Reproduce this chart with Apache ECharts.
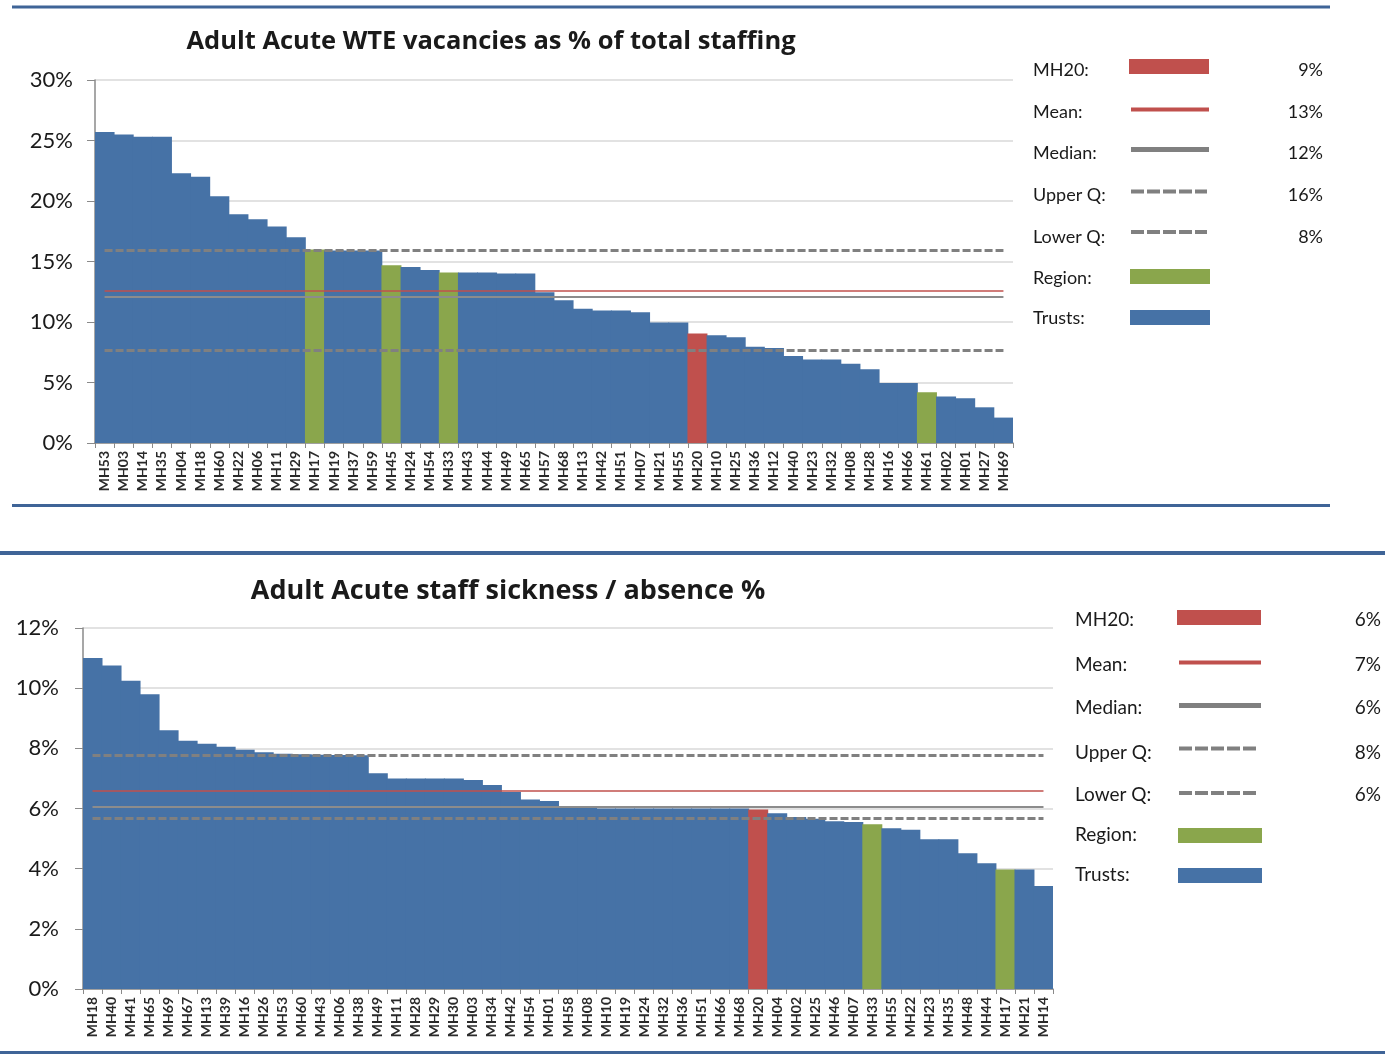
<!DOCTYPE html>
<html>
<head>
<meta charset="utf-8">
<script src="https://cdn.jsdelivr.net/npm/echarts@6/dist/echarts.min.js"></script>
<style>
  html, body { margin: 0; padding: 0; background: #ffffff; }
  #chart { width: 1385px; height: 1055px; }
</style>
</head>
<body>
<div id="chart"></div>
<script>
// ---- Adult Acute WTE vacancies (% of total staffing) ----
const vacancyTrusts = ['MH53','MH03','MH14','MH35','MH04','MH18','MH60','MH22','MH06','MH11','MH29','MH17',
  'MH19','MH37','MH59','MH45','MH24','MH54','MH33','MH43','MH44','MH49','MH65','MH57','MH68','MH13','MH42',
  'MH51','MH07','MH21','MH55','MH20','MH10','MH25','MH36','MH12','MH40','MH23','MH32','MH08','MH28','MH16',
  'MH66','MH61','MH02','MH01','MH27','MH69'];
const vacancyValues = [25.7, 25.5, 25.3, 25.3, 22.3, 22.0, 20.4, 18.9, 18.5, 17.9, 17.0, 16.0,
  15.9, 15.9, 15.9, 14.7, 14.55, 14.3, 14.1, 14.1, 14.1, 14.0, 14.0, 12.45, 11.8, 11.1, 10.95,
  10.95, 10.8, 9.95, 9.95, 9.05, 8.9, 8.75, 7.95, 7.85, 7.2, 6.9, 6.9, 6.55, 6.1, 4.95,
  4.95, 4.2, 3.85, 3.7, 2.95, 2.1];
const vacancyRegion = ['MH17', 'MH45', 'MH33', 'MH61'];
const vacancyMean = 12.6;
const vacancyMedian = 12.07;
const vacancyUpperQ = 15.95;
const vacancyLowerQ = 7.66;
const vacancyTicks = [0, 5, 10, 15, 20, 25, 30];

// ---- Adult Acute staff sickness / absence % ----
const sicknessTrusts = ['MH18','MH40','MH41','MH65','MH69','MH67','MH13','MH39','MH16','MH26','MH53','MH60',
  'MH43','MH06','MH38','MH49','MH11','MH28','MH29','MH30','MH03','MH34','MH42','MH54','MH01','MH58','MH08',
  'MH10','MH19','MH24','MH32','MH36','MH51','MH66','MH68','MH20','MH04','MH02','MH25','MH46','MH07','MH33',
  'MH55','MH22','MH23','MH35','MH48','MH44','MH17','MH21','MH14'];
const sicknessValues = [11.0, 10.75, 10.25, 9.8, 8.6, 8.25, 8.15, 8.05, 7.95, 7.87, 7.82, 7.8,
  7.79, 7.78, 7.77, 7.17, 7.0, 7.0, 7.0, 7.0, 6.95, 6.78, 6.55, 6.3, 6.25, 6.06, 6.06,
  6.0, 6.0, 6.0, 6.0, 6.0, 6.0, 6.0, 6.0, 5.97, 5.84, 5.72, 5.66, 5.58, 5.55, 5.48,
  5.34, 5.29, 4.98, 4.98, 4.51, 4.18, 3.97, 3.97, 3.42];
const sicknessRegion = ['MH33', 'MH17'];
const sicknessMean = 6.6;
const sicknessMedian = 6.06;
const sicknessUpperQ = 7.77;
const sicknessLowerQ = 5.66;
const sicknessTicks = [0, 2, 4, 6, 8, 10, 12];

const focusTrust = 'MH20';
const legendLabels = ['MH20:', 'Mean:', 'Median:', 'Upper Q:', 'Lower Q:', 'Region:', 'Trusts:'];

// ---- palette ----
const BLUE = '#4672A6';
const GREEN = '#8AA64C';
const RED = '#C0504D';
const GREY = '#808080';
const RULE = '#3F6497';
const FONT = 'Lato, "Open Sans", sans-serif';
const TITLE_FONT = '"Open Sans", Lato, sans-serif';
const INK = '#1a1a1a';

const meanStyle = { color: RED, width: 1.5, type: 'solid' };
const medianStyle = { color: '#8C8C8C', width: 2, type: 'solid' };
const quartileStyle = { color: GREY, width: 3, type: [8, 3] };

function barData(trusts, values, region) {
  return values.map((v, i) => {
    const t = trusts[i];
    let c = BLUE;
    if (t === focusTrust) c = RED;
    else if (region.indexOf(t) >= 0) c = GREEN;
    return { value: v, itemStyle: { color: c } };
  });
}

function refLine(trusts, v, style) {
  return [
    { coord: [trusts[0], v], lineStyle: style },
    { coord: [trusts[trusts.length - 1], v] }
  ];
}

function xAxisFor(gridIndex, trusts) {
  return {
    type: 'category', gridIndex: gridIndex, data: trusts,
    boundaryGap: true,
    axisLine: { show: true, lineStyle: { color: '#8A8A8A', width: 1.5 } },
    axisTick: { show: true, alignWithLabel: false, length: 5, lineStyle: { color: '#8A8A8A' } },
    axisLabel: { interval: 0, rotate: 90, margin: 8, fontFamily: FONT, fontSize: 14, fontWeight: 'bold', color: '#2a2a2a' },
    splitLine: { show: false }
  };
}

function yAxisFor(gridIndex, ticks, margin) {
  return {
    type: 'value', gridIndex: gridIndex,
    min: ticks[0], max: ticks[ticks.length - 1], interval: ticks[1] - ticks[0],
    axisLine: { show: true, lineStyle: { color: '#8A8A8A', width: 1.5 } },
    axisTick: { show: true, length: 8, lineStyle: { color: '#8A8A8A' } },
    axisLabel: { margin: margin, fontFamily: FONT, fontSize: 22, color: INK, formatter: '{value}%' },
    splitLine: { show: true, lineStyle: { color: '#D9D9D9', width: 1.5 } }
  };
}

// Bars are drawn a touch wider than their band so neighbours butt together seamlessly
function barSeries(idx, trusts, values, region, mean, median, upper, lower) {
  return {
    type: 'bar', xAxisIndex: idx, yAxisIndex: idx,
    data: barData(trusts, values, region),
    barWidth: 20,
    animation: false,
    markLine: {
      silent: true, symbol: ['none', 'none'], label: { show: false }, animation: false,
      data: [
        refLine(trusts, upper, quartileStyle),
        refLine(trusts, lower, quartileStyle),
        refLine(trusts, median, medianStyle),
        refLine(trusts, mean, meanStyle)
      ]
    }
  };
}

function pct(v) { return Math.round(v) + '%'; }

// Key block beside each chart: label, swatch and rounded value
function legendBlock(textX, swX1, swX2, valueX, textYs, swYs, values, fontSize) {
  const els = [];
  const font = fontSize + 'px ' + FONT;
  legendLabels.forEach((lab, i) => {
    els.push({ type: 'text', silent: true,
      style: { x: textX, y: textYs[i], text: lab, font: font, fill: INK, align: 'left', verticalAlign: 'middle' } });
  });
  const w = swX2 - swX1;
  els.push({ type: 'rect', silent: true, shape: { x: swX1, y: swYs[0] - 7.5, width: w, height: 15 }, style: { fill: RED } });
  els.push({ type: 'line', silent: true, shape: { x1: swX1 + 2, y1: swYs[1], x2: swX2, y2: swYs[1] }, style: { stroke: RED, lineWidth: 4 } });
  els.push({ type: 'line', silent: true, shape: { x1: swX1 + 2, y1: swYs[2], x2: swX2, y2: swYs[2] }, style: { stroke: '#808080', lineWidth: 5 } });
  els.push({ type: 'line', silent: true, shape: { x1: swX1 + 2, y1: swYs[3], x2: swX2 - 2, y2: swYs[3] }, style: { stroke: '#808080', lineWidth: 4, lineDash: [13, 3] } });
  els.push({ type: 'line', silent: true, shape: { x1: swX1 + 2, y1: swYs[4], x2: swX2 - 2, y2: swYs[4] }, style: { stroke: '#808080', lineWidth: 4, lineDash: [13, 3] } });
  els.push({ type: 'rect', silent: true, shape: { x: swX1 + 1, y: swYs[5] - 7.5, width: w, height: 15 }, style: { fill: GREEN } });
  els.push({ type: 'rect', silent: true, shape: { x: swX1 + 1, y: swYs[6] - 7.5, width: w, height: 15 }, style: { fill: BLUE } });
  values.forEach((v, i) => {
    els.push({ type: 'text', silent: true,
      style: { x: valueX, y: textYs[i], text: pct(v), font: font, fill: INK, align: 'right', verticalAlign: 'middle' } });
  });
  return els;
}

const vacancyFocus = vacancyValues[vacancyTrusts.indexOf(focusTrust)];
const sicknessFocus = sicknessValues[sicknessTrusts.indexOf(focusTrust)];

const rules = [
  { type: 'rect', silent: true, shape: { x: 12, y: 5.5, width: 1318, height: 3 }, style: { fill: RULE } },
  { type: 'rect', silent: true, shape: { x: 12, y: 504, width: 1318, height: 3 }, style: { fill: RULE } },
  { type: 'rect', silent: true, shape: { x: 0, y: 551, width: 1385, height: 4 }, style: { fill: RULE } },
  { type: 'rect', silent: true, shape: { x: 0, y: 1051, width: 1385, height: 3 }, style: { fill: RULE } }
];

const titles = [
  { type: 'text', silent: true, style: { x: 491, y: 42, text: 'Adult Acute WTE vacancies as % of total staffing',
      font: 'bold 25.5px ' + TITLE_FONT, fill: INK, align: 'center', verticalAlign: 'middle' } },
  { type: 'text', silent: true, style: { x: 508, y: 591, text: 'Adult Acute staff sickness / absence %',
      font: 'bold 27px ' + TITLE_FONT, fill: INK, align: 'center', verticalAlign: 'middle' } }
];

const topLegend = legendBlock(1033, 1129, 1209, 1323,
  [70, 112, 153, 195, 237, 278, 318],
  [66.5, 109.5, 149.5, 191.5, 232, 276.5, 317.5],
  [vacancyFocus, vacancyMean, vacancyMedian, vacancyUpperQ, vacancyLowerQ], 18);

const bottomLegend = legendBlock(1075, 1177, 1261, 1381,
  [620, 665, 708, 753, 795, 835, 875],
  [617.5, 662.5, 705.5, 748.5, 793, 835.5, 875.5],
  [sicknessFocus, sicknessMean, sicknessMedian, sicknessUpperQ, sicknessLowerQ], 19);

const chart = echarts.init(document.getElementById('chart'), null, { renderer: 'canvas' });
chart.setOption({
  backgroundColor: '#ffffff',
  animation: false,
  grid: [
    { left: 95, top: 80, width: 918, height: 363, containLabel: false },
    { left: 83, top: 628, width: 970, height: 361, containLabel: false }
  ],
  xAxis: [xAxisFor(0, vacancyTrusts), xAxisFor(1, sicknessTrusts)],
  yAxis: [yAxisFor(0, vacancyTicks, 22), yAxisFor(1, sicknessTicks, 24)],
  series: [
    barSeries(0, vacancyTrusts, vacancyValues, vacancyRegion, vacancyMean, vacancyMedian, vacancyUpperQ, vacancyLowerQ),
    barSeries(1, sicknessTrusts, sicknessValues, sicknessRegion, sicknessMean, sicknessMedian, sicknessUpperQ, sicknessLowerQ)
  ],
  graphic: rules.concat(titles, topLegend, bottomLegend)
});
</script>
</body>
</html>
